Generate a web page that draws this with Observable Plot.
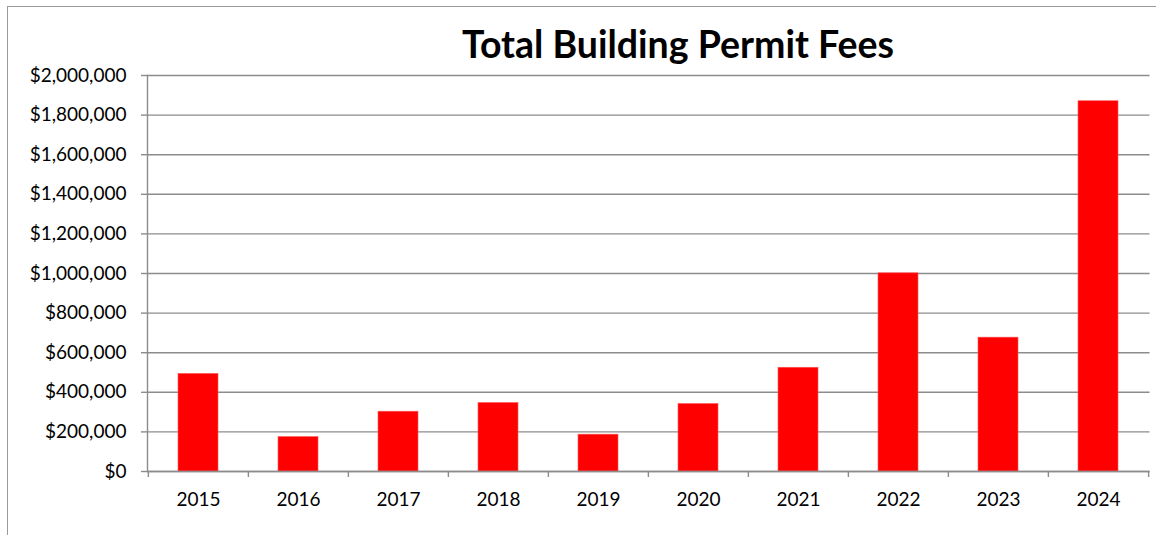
<!DOCTYPE html>
<html>
<head>
<meta charset="utf-8">
<script src="https://cdn.jsdelivr.net/npm/d3@7"></script>
<script src="https://cdn.jsdelivr.net/npm/@observablehq/plot@0.6"></script>
<style>
  html, body { margin: 0; padding: 0; background: #fff; }
  #wrap { position: relative; width: 1156px; height: 535px; overflow: hidden; }
  #frame { position: absolute; left: 7px; top: 6px; right: -20px; bottom: -20px;
           border-left: 1.5px solid #9a9a9a; border-top: 1.5px solid #9a9a9a; pointer-events: none; }
  #title { position: absolute; left: 0; top: 25px; width: 1356px; text-align: center;
           font-family: Lato, "Open Sans", sans-serif; font-weight: bold; font-size: 37.5px;
           line-height: 37.5px; color: #000; white-space: nowrap; }
  #chart { position: absolute; left: 0; top: 0; }
</style>
</head>
<body>
<div id="wrap">
  <div id="chart"></div>
  <div id="frame"></div>
  <div id="title">Total Building Permit Fees</div>
</div>
<script>
const years = ["2015", "2016", "2017", "2018", "2019", "2020", "2021", "2022", "2023", "2024"];
const fees = [493000, 174000, 302000, 346000, 186000, 341000, 524000, 1001000, 676000, 1870000];
const yTicks = [0, 200000, 400000, 600000, 800000, 1000000, 1200000, 1400000, 1600000, 1800000, 2000000];

const data = years.map((year, i) => ({year, fee: fees[i]}));

const W = 1156, H = 535, ML = 147, MR = 6.5, MT = 75, MB = 64;
const step = (W - ML - MR) / years.length;
const gridColor = "#8c8c8c";
const fmt = d => "$" + d3.format(",")(d);

const chart = Plot.plot({
  width: W,
  height: H,
  marginLeft: ML,
  marginRight: MR,
  marginTop: MT,
  marginBottom: MB,
  style: {fontFamily: "Lato, 'Open Sans', sans-serif", fontSize: "19px", color: "#000", background: "transparent"},
  x: {domain: years, paddingInner: 0.6, paddingOuter: 0.3, label: null},
  y: {domain: [0, 2000000], label: null},
  marks: [
    Plot.gridY(yTicks, {stroke: gridColor, strokeOpacity: 1, strokeWidth: 1.4}),
    Plot.barY(data, {x: "year", y: "fee", fill: "#ff0000", stroke: "#ff5a5a", strokeWidth: 0.6}),
    Plot.frame({anchor: "left", stroke: gridColor, strokeWidth: 1.4}),
    Plot.ruleY([0], {stroke: gridColor, strokeWidth: 1.4}),
    Plot.ruleX(years, {x: d => d, y1: 0, y2: 0, insetBottom: -6, dx: -step / 2, stroke: gridColor, strokeWidth: 1.4}),
    Plot.ruleX([years[years.length - 1]], {x: d => d, y1: 0, y2: 0, insetBottom: -6, dx: step / 2, stroke: gridColor, strokeWidth: 1.4}),
    Plot.axisY(yTicks, {tickSize: 6, tickPadding: 15, tickFormat: fmt, stroke: gridColor, strokeWidth: 1.4, fill: "#000", fontSize: 19, label: null}),
    Plot.axisX(years, {tickSize: 0, tickPadding: 21, fill: "#000", fontSize: 19, label: null})
  ]
});
document.getElementById("chart").appendChild(chart);
</script>
</body>
</html>
